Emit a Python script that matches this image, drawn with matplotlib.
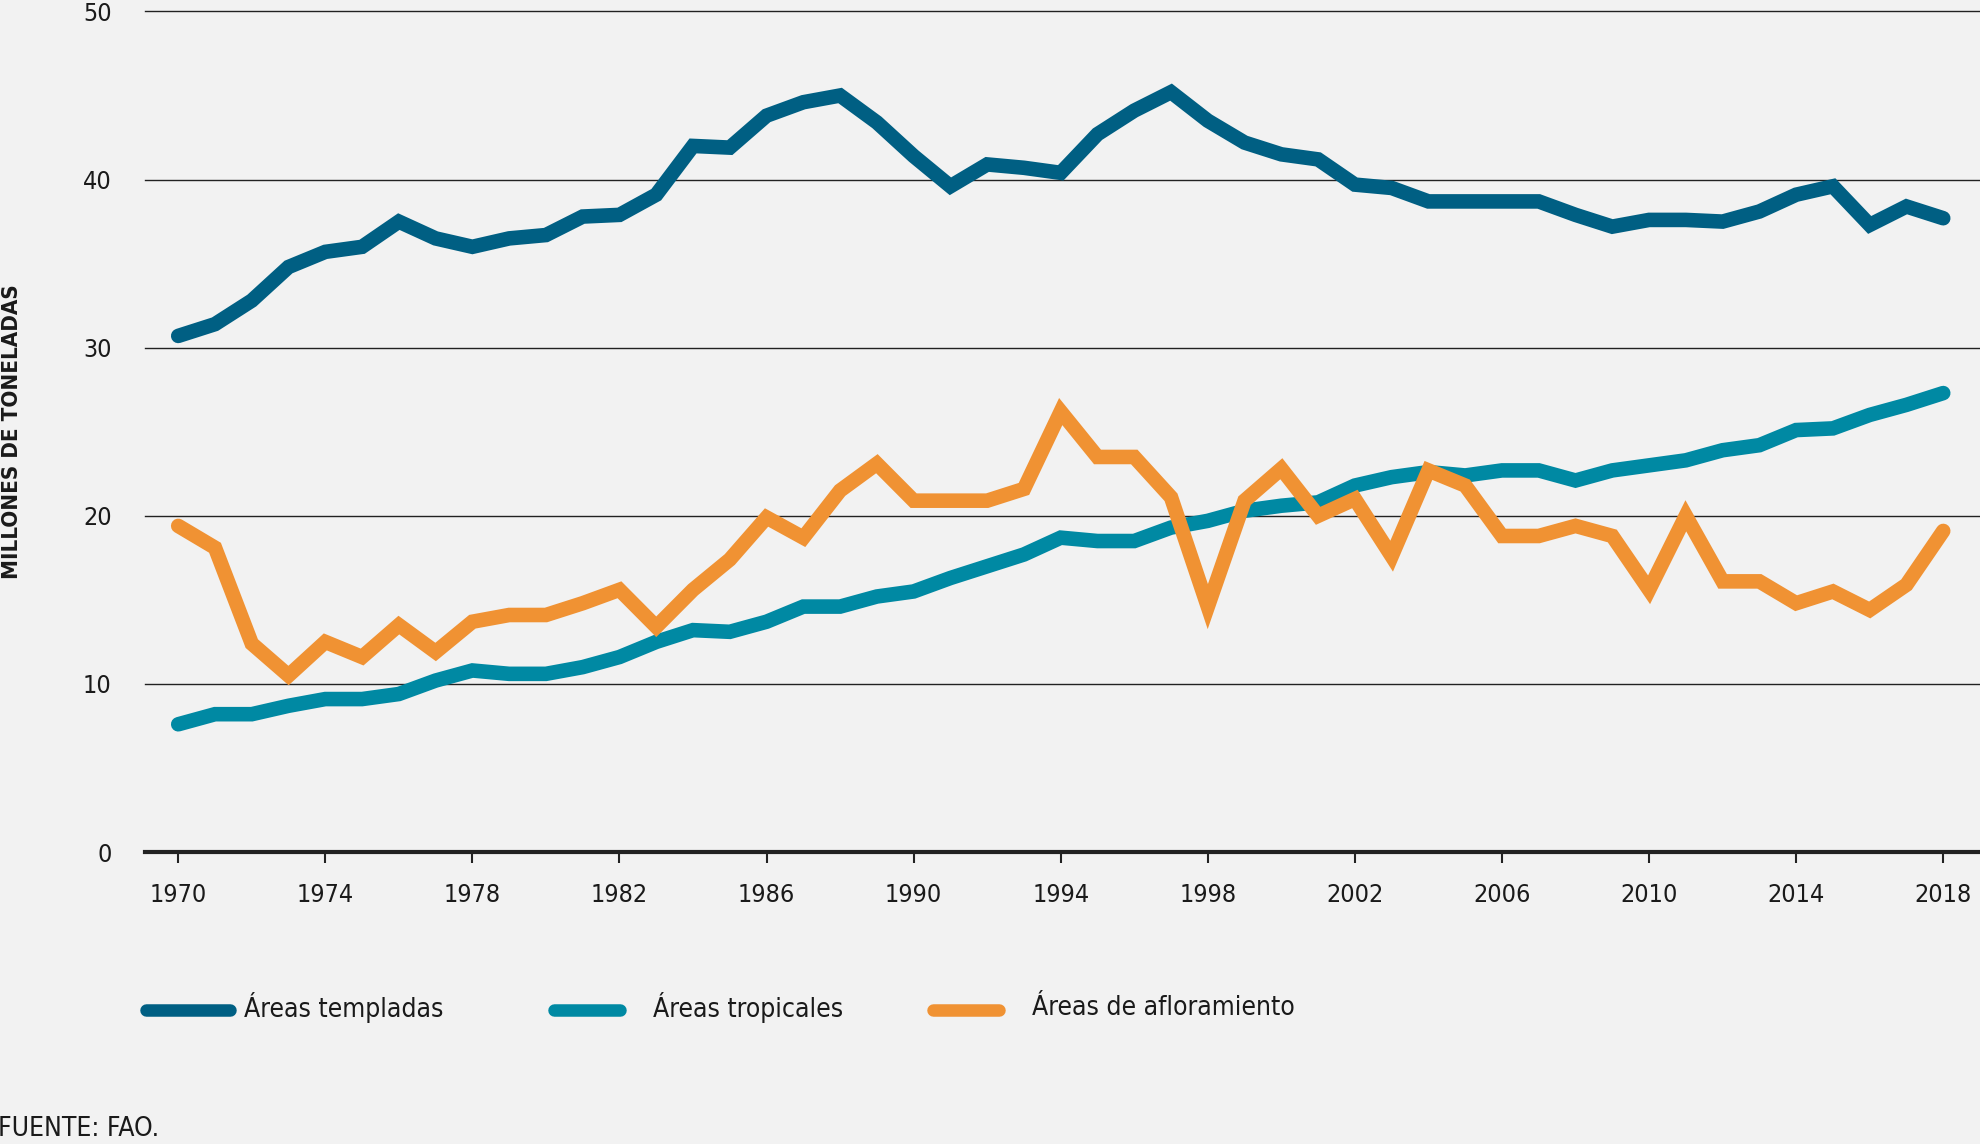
import matplotlib
matplotlib.use("Agg")
import matplotlib.pyplot as plt
from matplotlib.lines import Line2D

plt.rcParams['font.family'] = ['DejaVu Sans']
plt.rcParams['font.stretch'] = 'condensed'

# Data (millones de toneladas), 1970-2018
years = list(range(1970, 2019))
templadas = [30.7, 31.4, 32.8, 34.8, 35.7, 36.0, 37.5, 36.5, 36.0, 36.5,
             36.7, 37.8, 37.9, 39.1, 42.0, 41.9, 43.8, 44.6, 45.0, 43.4,
             41.4, 39.6, 40.9, 40.7, 40.4, 42.7, 44.1, 45.2, 43.5, 42.2,
             41.5, 41.2, 39.7, 39.5, 38.7, 38.7, 38.7, 38.7, 37.9, 37.2,
             37.6, 37.6, 37.5, 38.1, 39.1, 39.6, 37.3, 38.4, 37.7]
tropicales = [7.6, 8.2, 8.2, 8.7, 9.1, 9.1, 9.4, 10.2, 10.8, 10.6,
              10.6, 11.0, 11.6, 12.5, 13.2, 13.1, 13.7, 14.6, 14.6, 15.2,
              15.5, 16.3, 17.0, 17.7, 18.7, 18.5, 18.5, 19.3, 19.7, 20.3,
              20.6, 20.8, 21.8, 22.3, 22.6, 22.4, 22.7, 22.7, 22.1, 22.7,
              23.0, 23.3, 23.9, 24.2, 25.1, 25.2, 26.0, 26.6, 27.3]
afloramiento = [19.4, 18.1, 12.4, 10.5, 12.5, 11.6, 13.5, 11.9, 13.7, 14.1,
                14.1, 14.8, 15.6, 13.4, 15.6, 17.4, 19.9, 18.7, 21.5, 23.1,
                20.9, 20.9, 20.9, 21.6, 26.2, 23.5, 23.5, 21.1, 14.6, 20.9,
                22.8, 20.0, 21.0, 17.6, 22.7, 21.8, 18.8, 18.8, 19.4, 18.8,
                15.6, 20.0, 16.1, 16.1, 14.8, 15.5, 14.4, 15.9, 19.1]

labels = ['Áreas templadas', 'Áreas tropicales', 'Áreas de afloramiento']
colors = ['#005f83', '#0089a3', '#f09233']
xticks = list(range(1970, 2019, 4))
yticks = [0, 10, 20, 30, 40, 50]

bg = '#f2f2f2'
fig = plt.figure(figsize=(19.8, 11.44), dpi=100, facecolor=bg)
ax = fig.add_axes([0.0733, 0.2552, 0.9267, 0.7348], facecolor=bg)

for series, color in zip([templadas, tropicales, afloramiento], colors):
    ax.plot(years, series, color=color, lw=10.5, solid_capstyle='round',
            solid_joinstyle='miter', zorder=3)

ax.set_xlim(1969.1, 2019.0)
ax.set_ylim(0, 50)
ax.set_xticks(xticks)
ax.set_yticks(yticks)

# Horizontal grid lines
for y in yticks[1:]:
    ax.axhline(y, color='#222222', lw=1.0, zorder=1, clip_on=False)

for s in ['top', 'right', 'left']:
    ax.spines[s].set_visible(False)
ax.spines['bottom'].set_linewidth(3.0)
ax.spines['bottom'].set_color('#222222')

ax.tick_params(axis='x', length=8, width=1.5, color='#222222', pad=14,
               labelsize=18, labelcolor='#1a1a1a')
ax.tick_params(axis='y', length=0, pad=24, labelsize=18, labelcolor='#1a1a1a')

fig.text(0.001, 0.623, 'MILLONES DE TONELADAS', rotation=90, ha='left',
         va='center', fontsize=16, fontweight='bold', color='#1a1a1a')

# Legend drawn manually
leg_y = 1 - 1010 / 1144
handles_x = [(140, 236), (548, 626), (927, 1005)]
text_x = [244, 653, 1032]
for (x0, x1), tx, color, lab in zip(handles_x, text_x, colors, labels):
    fig.add_artist(Line2D([x0 / 1980 + 0.003, x1 / 1980 - 0.003], [leg_y, leg_y],
                          color=color, lw=9, solid_capstyle='round',
                          transform=fig.transFigure))
    fig.text(tx / 1980, leg_y + 0.002, lab, ha='left', va='center',
             fontsize=19, color='#1a1a1a')

fig.text(-0.001, 0.002, 'FUENTE: FAO.', ha='left', va='bottom',
         fontsize=19, color='#1a1a1a')

fig.savefig('out.png', dpi=100, facecolor=bg)
